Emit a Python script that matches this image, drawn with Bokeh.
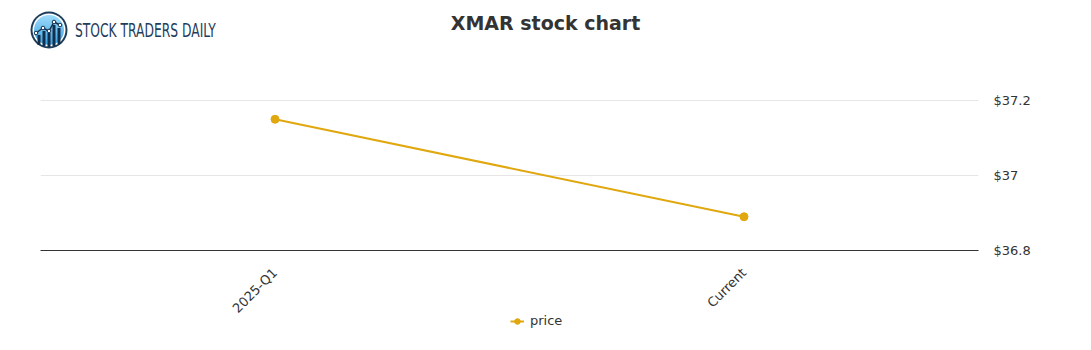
import numpy as np
from bokeh.plotting import figure
from bokeh.models import (FactorRange, Range1d, Legend, LegendItem, FixedTicker, LinearAxis,
                          CustomJSTickFormatter, Div)
from bokeh.layouts import column
from bokeh.embed import file_html
from bokeh.resources import INLINE

# ---- data ----
categories = ["2025-Q1", "Current"]
price = [37.15, 36.89]
y_ticks = [36.8, 37.0, 37.2]
series_name = "price"
title_text = "XMAR stock chart"
brand_text = "STOCK TRADERS DAILY"

LINE_COLOR = "#e0a80e"
TEXT_COLOR = "#333333"
W = 1091

# ---- header (logo + title) as HTML ----
icon_svg = """
<svg style="position:absolute;left:30px;top:11px" width="38" height="38" viewBox="0 0 38 38">
 <defs><linearGradient id="g" x1="0" y1="0" x2="0" y2="1">
  <stop offset="0" stop-color="#9fdcfb"/><stop offset="1" stop-color="#3aa0e0"/></linearGradient></defs>
 <circle cx="19" cy="19" r="18.5" fill="#1c3c5a"/>
 <circle cx="19" cy="19" r="16.5" fill="#ffffff"/>
 <circle cx="19" cy="19" r="15" fill="url(#g)"/>
 <rect x="7.5" y="24" width="3" height="10" fill="#12304e"/>
 <rect x="12.5" y="20" width="3" height="15" fill="#12304e"/>
 <rect x="17.5" y="22" width="3" height="14" fill="#12304e"/>
 <rect x="22.5" y="14" width="3" height="21" fill="#12304e"/>
 <rect x="27.5" y="17" width="3" height="16" fill="#12304e"/>
 <polyline points="6,22 13,17 19,20 24,11 30,14" fill="none" stroke="#12304e" stroke-width="1.5"/>
 <circle cx="6" cy="22" r="1.8" fill="#fff" stroke="#12304e"/>
 <circle cx="13" cy="17" r="1.8" fill="#fff" stroke="#12304e"/>
 <circle cx="19" cy="20" r="1.8" fill="#fff" stroke="#12304e"/>
 <circle cx="24" cy="11" r="1.8" fill="#fff" stroke="#12304e"/>
 <circle cx="30" cy="14" r="1.8" fill="#fff" stroke="#12304e"/>
</svg>"""

header_html = f"""
<div style="position:relative;width:{W}px;height:60px;margin:0;padding:0;">
 {icon_svg}
 <span style="position:absolute;left:75px;top:19px;font-family:'Liberation Sans Narrow','DejaVu Sans Condensed',Roboto,sans-serif;
   font-stretch:condensed;font-size:19px;line-height:22px;color:#1f3d5c;white-space:nowrap;
   transform:scaleX(0.72);transform-origin:0 50%;">{brand_text}</span>
 <span style="position:absolute;left:0;top:12px;width:{W}px;text-align:center;font-family:'DejaVu Sans',sans-serif;
   font-weight:bold;font-size:19px;line-height:22px;color:{TEXT_COLOR};white-space:nowrap;">{title_text}</span>
</div>"""

hdr = Div(text=header_html, width=W, height=60, margin=(0, 0, 0, 0))

# ---- main chart ----
p = figure(width=W, height=264, x_range=FactorRange(*categories),
           y_range=Range1d(36.8, 36.8 + 185 / 375.0),
           toolbar_location=None, output_backend="svg",
           min_border_left=40, min_border_right=113, min_border_top=5, min_border_bottom=74,
           y_axis_location=None, margin=(0, 0, 0, 0))
p.outline_line_color = None
p.xgrid.grid_line_color = None
p.ygrid.grid_line_color = "#e6e6e6"
p.ygrid.ticker = FixedTicker(ticks=y_ticks)

yaxis = LinearAxis(ticker=FixedTicker(ticks=y_ticks))
yaxis.formatter = CustomJSTickFormatter(code="""
const k = Math.round(tick*10)/10;
return "$" + k;
""")
yaxis.axis_line_color = None
yaxis.major_tick_line_color = None
yaxis.minor_tick_line_color = None
yaxis.major_label_standoff = 9
yaxis.major_label_text_font = "DejaVu Sans"
yaxis.major_label_text_font_size = "13px"
yaxis.major_label_text_color = TEXT_COLOR
p.add_layout(yaxis, "right")

xa = p.xaxis[0]
xa.axis_line_color = "#333333"
xa.axis_line_width = 1
xa.major_tick_line_color = None
xa.minor_tick_line_color = None
xa.major_label_orientation = np.pi / 4
xa.major_label_standoff = 14
xa.major_label_text_font = "DejaVu Sans"
xa.major_label_text_font_size = "13px"
xa.major_label_text_color = TEXT_COLOR

p.line(x=categories, y=price, line_color=LINE_COLOR, line_width=2)
p.scatter(x=categories, y=price, size=8, fill_color=LINE_COLOR, line_color=LINE_COLOR)

# ---- legend strip ----
lg = figure(width=W, height=40, x_range=Range1d(0, 1), y_range=Range1d(0, 1),
            toolbar_location=None, output_backend="svg",
            min_border_left=40, min_border_right=113, min_border_top=0, min_border_bottom=0,
            x_axis_location=None, y_axis_location=None, margin=(-14, 0, 0, 0))
lg.outline_line_color = None
lg.grid.visible = False
lg.background_fill_alpha = 0
lg.border_fill_alpha = 0
# legend keys (kept outside the visible range of the strip)
lr_line = lg.line(x=[-5, -4], y=[-5, -5], line_color=LINE_COLOR, line_width=2)
lr_pts = lg.scatter(x=[-5], y=[-5], size=8, fill_color=LINE_COLOR, line_color=LINE_COLOR)
legend = Legend(items=[LegendItem(label=series_name, renderers=[lr_line, lr_pts])],
                location=(470, 22), orientation="horizontal",
                background_fill_alpha=0, border_line_color=None,
                padding=0, margin=0, glyph_width=14, glyph_height=14, label_standoff=6,
                label_text_font="DejaVu Sans", label_text_font_size="13px",
                label_text_color=TEXT_COLOR)
lg.add_layout(legend, "center")

layout = column(hdr, p, lg, spacing=0, margin=(0, 0, 0, 0))
open("out.html", "w").write(file_html(layout, INLINE))
